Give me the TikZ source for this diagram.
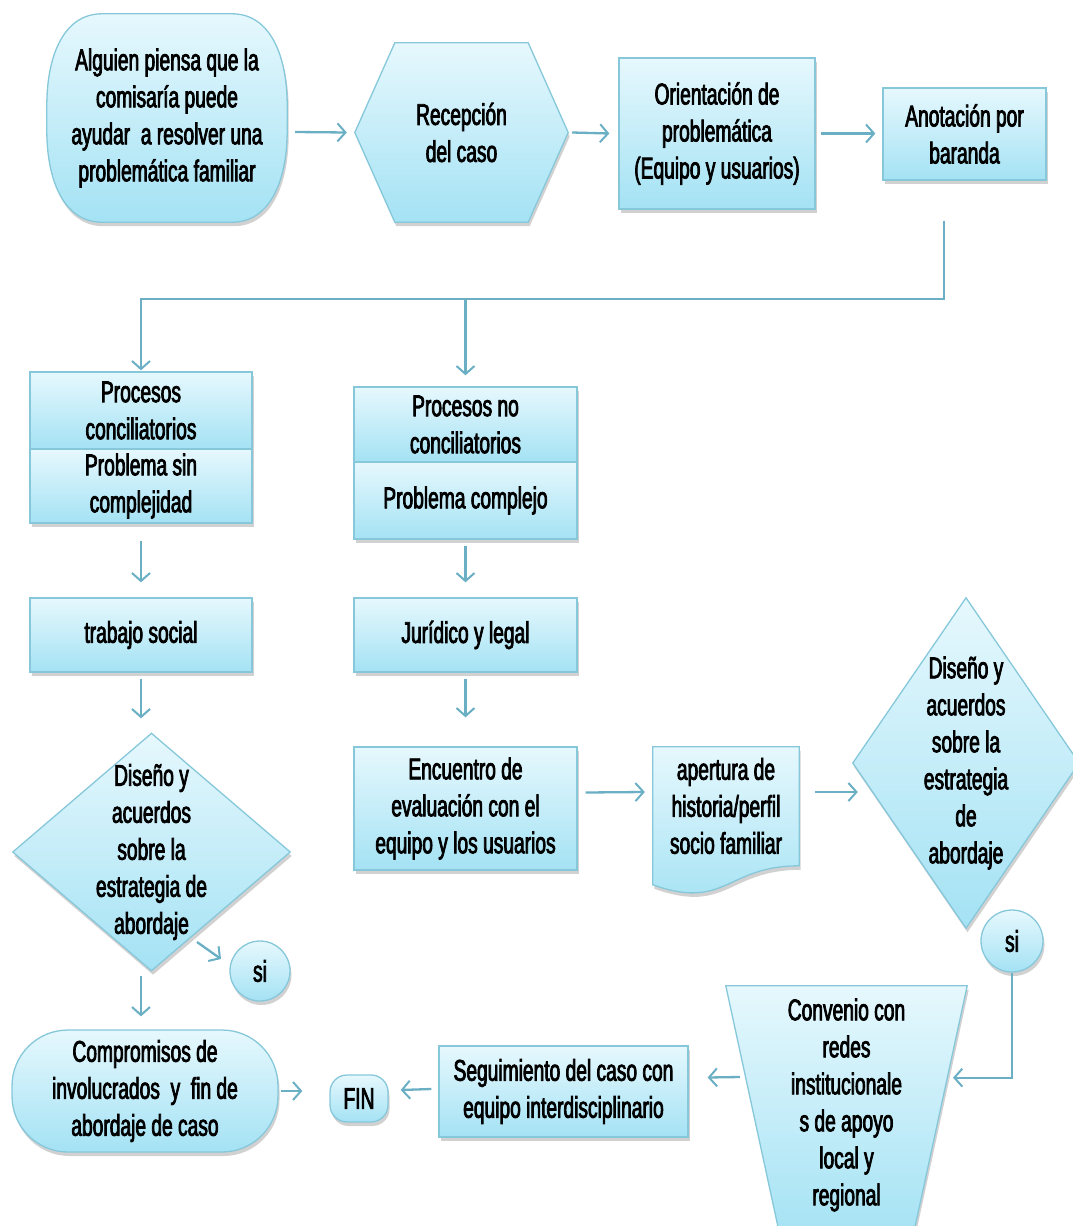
\documentclass[tikz,border=0pt]{standalone}
\usepackage{fontspec}
\setmainfont{Liberation Sans}[FakeStretch=0.64,FakeBold=2.5]
\usetikzlibrary{arrows.meta,shadows,calc}
\definecolor{ftop}{HTML}{E6F8FD}
\definecolor{fbot}{HTML}{A4E2F4}
\definecolor{bord}{HTML}{86C8DA}
\definecolor{arr}{HTML}{6AAFC4}
\pgfdeclarelayer{bg}
\pgfsetlayers{bg,main}
\begin{document}
\begin{tikzpicture}[x=1pt,y=-1pt,
  txt/.style={font=\fontsize{30}{37}\selectfont, align=center, inner sep=0pt, text=black},
  fillsty/.style={draw=bord, line width=1.3pt, top color=ftop, bottom color=fbot,
     drop shadow={shadow xshift=1.5pt, shadow yshift=-4pt, fill=black!60, opacity=0.3}},
  box/.style={txt, fillsty, rectangle},
  plainbox/.style={txt, rectangle},
  conn/.style={draw=arr, line width=2.3pt, -{Straight Barb[length=8pt,width=18pt,line width=2pt]}},
]
\useasboundingbox (0,0) rectangle (1073,1226);

% --- top row ---
\node[plainbox, minimum width=240, minimum height=208] (start) at (167,118)
  {Alguien piensa que la\\comisaría puede\\ayudar\ \ a resolver una\\problemática familiar};
\node[plainbox, minimum width=213, minimum height=179] (recep) at (461.5,132.5) {Recepción\\del caso};
\node[box, minimum width=196, minimum height=151] (orient) at (717,133.5)
  {Orientación de\\problemática\\(Equipo y usuarios)};
\node[box, minimum width=163, minimum height=92] (anot) at (964.5,134) {Anotación por\\baranda};

% --- second row ---
\node[box, minimum width=222, minimum height=77] (procA) at (141,410.5) {Procesos\\conciliatorios};
\node[box, minimum width=222, minimum height=74] (procB) at (141,486) {Problema sin\\complejidad};
\node[box, minimum width=223, minimum height=75] (procC) at (465.5,424.5) {Procesos no\\conciliatorios};
\node[box, minimum width=223, minimum height=77] (procD) at (465.5,500.5) {Problema complejo};

% --- third row ---
\node[box, minimum width=222, minimum height=74] (trab) at (141,635) {trabajo social};
\node[box, minimum width=223, minimum height=74] (jur) at (465.5,635) {Jurídico y legal};

% --- fourth row ---
\node[plainbox, minimum width=277, minimum height=237] (dizq) at (151.5,852)
  {Diseño y\\acuerdos\\sobre la\\estrategia de\\abordaje};
\node[box, minimum width=223, minimum height=123] (enc) at (465.5,808.5)
  {Encuentro de\\evaluación con el\\equipo y los usuarios};
\node[plainbox, minimum width=146, minimum height=118] (doc) at (726,806)
  {apertura de\\historia/perfil\\socio familiar};
\node[plainbox, minimum width=226, minimum height=330] (dder) at (966,763)
  {Diseño y\\acuerdos\\sobre la\\estrategia\\de\\abordaje};
\node[txt, fillsty, circle, minimum size=62] (sir) at (1012,941) {si};
\node[txt, fillsty, circle, minimum size=60] (sil) at (260,971) {si};

% --- bottom row ---
\node[box, rounded corners=56, minimum width=266, minimum height=122] (comp) at (145,1091)
  {Compromisos de\\involucrados\ \ y\ \ fin de\\abordaje de caso};
\node[box, rounded corners=17, minimum width=58, minimum height=47] (fin) at (359,1098.5) {FIN};
\node[box, minimum width=249, minimum height=91] (seg) at (563.5,1091.5)
  {Seguimiento del caso con\\equipo interdisciplinario};
\node[plainbox, minimum width=241, minimum height=238] (trap) at (846.5,1105)
  {Convenio con\\redes\\institucionale\\s de apoyo\\local y\\regional};

% --- drawn shapes ---
\begin{pgfonlayer}{bg}
\path[fillsty] ($(start.north west)+(55,0)$) -- ($(start.north east)+(-55,0)$)
  .. controls ($(start.north east)+(-18,0)$) and ($(start.north east)+(0,40)$) .. ($(start.north east)+(0,92)$)
  -- ($(start.south east)+(0,-92)$)
  .. controls ($(start.south east)+(0,-40)$) and ($(start.south east)+(-18,0)$) .. ($(start.south east)+(-55,0)$)
  -- ($(start.south west)+(55,0)$)
  .. controls ($(start.south west)+(18,0)$) and ($(start.south west)+(0,-40)$) .. ($(start.south west)+(0,-92)$)
  -- ($(start.north west)+(0,92)$)
  .. controls ($(start.north west)+(0,40)$) and ($(start.north west)+(18,0)$) .. ($(start.north west)+(55,0)$) -- cycle;
\path[fillsty] (recep.west) -- ($(recep.north west)+(40,0)$) -- ($(recep.north east)+(-40,0)$)
  -- (recep.east) -- ($(recep.south east)+(-40,0)$) -- ($(recep.south west)+(40,0)$) -- cycle;
\path[fillsty] (dizq.west) -- (dizq.north) -- (dizq.east) -- (dizq.south) -- cycle;
\path[fillsty] (dder.west) -- (dder.north) -- (dder.east) -- (dder.south) -- cycle;
\path[fillsty] (doc.north west) -- (doc.north east) -- ($(doc.north east)+(0,119)$)
  .. controls ($(doc.north)+(0,119)$) and ($(doc.north)+(0,164)$) .. ($(doc.north west)+(0,138)$) -- cycle;
\path[fillsty] (trap.north west) -- (trap.north east) -- ($(trap.north east)+(-55,254)$)
  -- ($(trap.north west)+(55,254)$) -- cycle;
\end{pgfonlayer}

% --- connectors ---
\draw[conn] ($(start.east)+(8,14)$) -- ($(recep.west)+(-8,0)$);
\draw[conn] ($(recep.east)+(4,0)$) -- ($(orient.west)+(-9,0)$);
\draw[conn] ($(orient.east)+(5,0)$) -- ($(anot.west)+(-7,-0.5)$);

\coordinate (anotout) at ($(anot.south)+(-20.5,40)$);
\coordinate (split) at ($(anot.south)+(-20.5,118)$);
\draw[conn] (anotout) -- (split) -| ($(procA.north)+(0,-1)$);
\draw[conn] (split -| procC.north) -- ($(procC.north)+(0,-11)$);

\draw[conn] ($(procB.south)+(0,17)$) -- ($(trab.north)+(0,-15)$);
\draw[conn] ($(procD.south)+(0,6)$) -- ($(jur.north)+(0,-15)$);
\draw[conn] ($(trab.south)+(0,6)$) -- ($(dizq.north)+(-10.5,-15)$);
\draw[conn] ($(jur.south)+(0,6)$) -- ($(enc.north)+(0,-29)$);

\draw[conn] ($(enc.east)+(8,-16)$) -- ($(doc.west)+(-8,-14)$);
\draw[conn] ($(doc.east)+(16,-14)$) -- ($(dder.west)+(5,29)$);

\coordinate (dizqse) at (197,942);
\coordinate (sitip) at (221,959);
\draw[conn] (dizqse) -- (sitip);
\draw[conn] ($(dizq.south)+(-10.5,5)$) -- ($(comp.north)+(-4,-13)$);

\draw[conn] ($(comp.east)+(2,0)$) -- ($(fin.west)+(-27,-7.5)$);
\draw[conn] ($(seg.west)+(-7,-2.5)$) -- ($(fin.east)+(12,-8.5)$);
\draw[conn] ($(trap.west)+(14,-28)$) -- ($(seg.east)+(19,-14)$);

\coordinate (sibend) at ($(sir.south)+(0,105)$);
\draw[conn] (sir.south) -- (sibend) -- ($(sibend)+(-59,0)$);
\end{tikzpicture}
\end{document}
